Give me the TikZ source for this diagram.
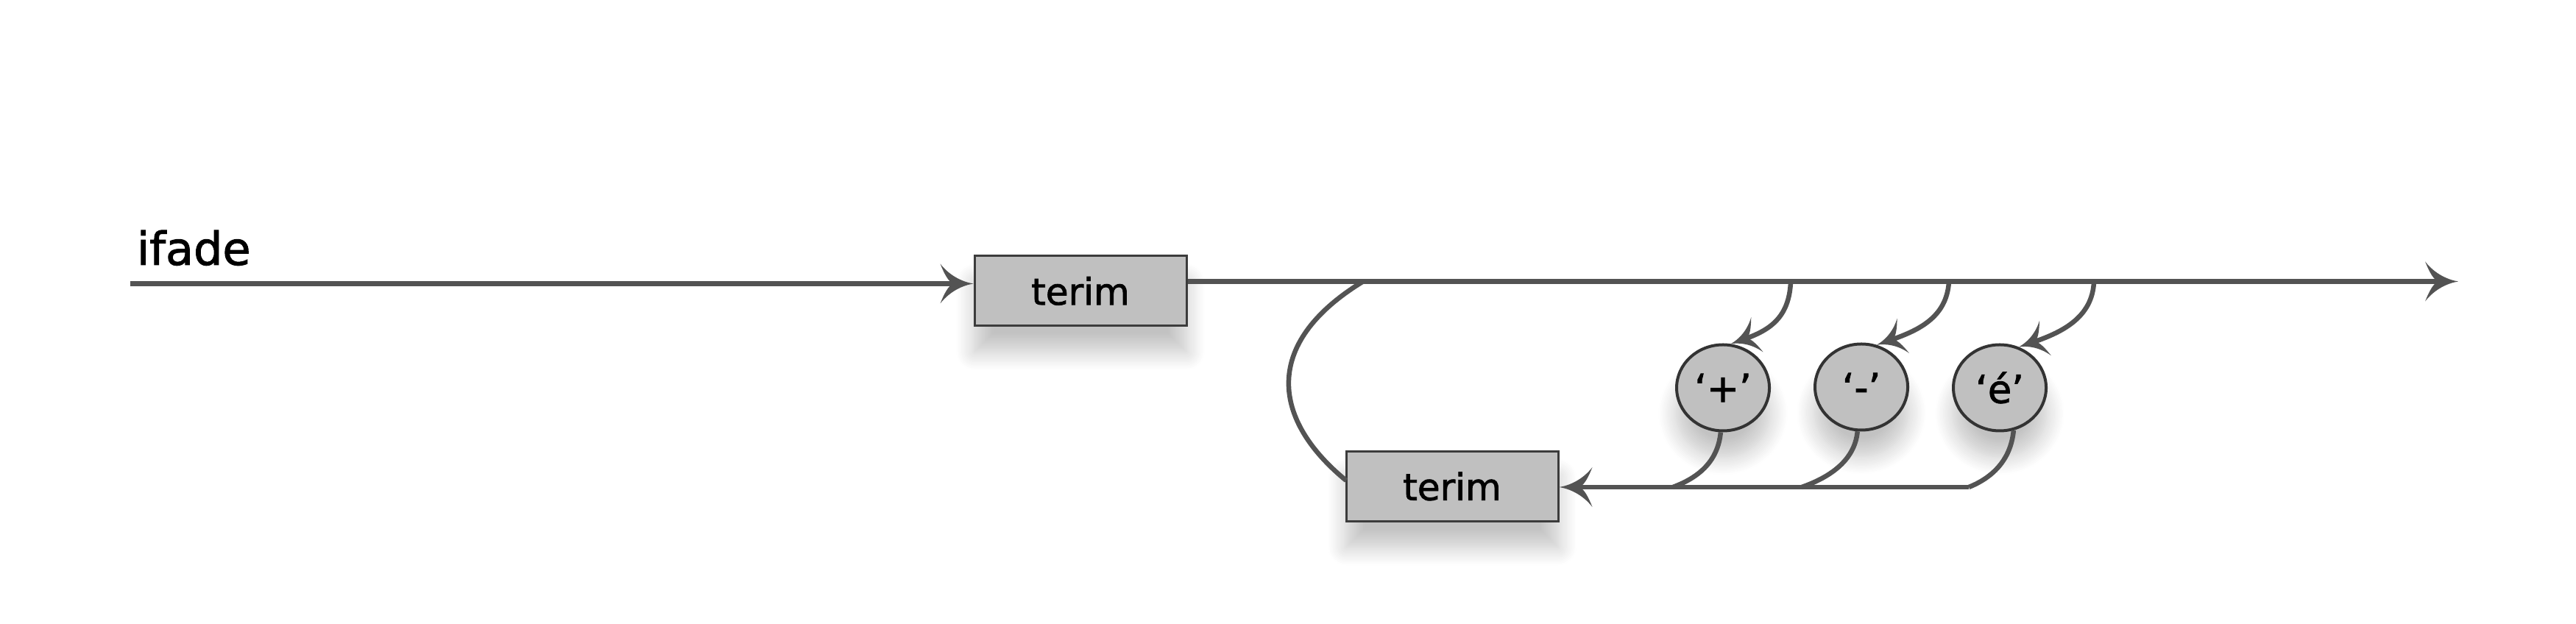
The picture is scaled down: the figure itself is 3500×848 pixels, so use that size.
\documentclass[tikz,border=0pt]{standalone}
\usepackage{fontspec}
\setmainfont{DejaVu Sans}[FakeBold=1.6]
\usetikzlibrary{arrows.meta,shapes.geometric,shadows.blur}

\definecolor{linecol}{HTML}{535353}
\definecolor{boxfill}{HTML}{C0C0C0}
\definecolor{boxborder}{HTML}{3C3C3C}
\definecolor{ellborder}{HTML}{333333}

\pgfdeclarearrow{
  name = Curvy,
  parameters = {\the\pgfarrowlength,\the\pgfarrowwidth},
  setup code = {
    \pgfarrowssettipend{0pt}
    \pgfarrowssetbackend{-\pgfarrowlength}
    \pgfarrowssetlineend{-0.45\pgfarrowlength}
    \pgfarrowssavethe\pgfarrowlength
    \pgfarrowssavethe\pgfarrowwidth
  },
  drawing code = {
    \pgfpathmoveto{\pgfpointorigin}
    \pgfpathcurveto{\pgfpoint{-0.3\pgfarrowlength}{0.04\pgfarrowwidth}}{\pgfpoint{-0.7\pgfarrowlength}{0.18\pgfarrowwidth}}{\pgfpoint{-\pgfarrowlength}{0.5\pgfarrowwidth}}
    \pgfpathcurveto{\pgfpoint{-0.88\pgfarrowlength}{0.25\pgfarrowwidth}}{\pgfpoint{-0.75\pgfarrowlength}{0.04\pgfarrowwidth}}{\pgfpoint{-0.6\pgfarrowlength}{0pt}}
    \pgfpathcurveto{\pgfpoint{-0.75\pgfarrowlength}{-0.04\pgfarrowwidth}}{\pgfpoint{-0.88\pgfarrowlength}{-0.25\pgfarrowwidth}}{\pgfpoint{-\pgfarrowlength}{-0.5\pgfarrowwidth}}
    \pgfpathcurveto{\pgfpoint{-0.7\pgfarrowlength}{-0.18\pgfarrowwidth}}{\pgfpoint{-0.3\pgfarrowlength}{-0.04\pgfarrowwidth}}{\pgfpointorigin}
    \pgfpathclose
    \pgfusepathqfill
  },
  defaults = {length = 9pt, width = 10.8pt}
}

\begin{document}
\begin{tikzpicture}[x=0.2pt,y=-0.2pt,
  conn/.style={draw=linecol, line width=1.3pt},
  bigtip/.style={-{Curvy[length=9pt,width=10.8pt]}},
  smalltip/.style={-{Curvy[length=7.6pt,width=10pt]}},
  softshadow/.style={blur shadow={shadow xshift=0pt, shadow yshift=-7pt, shadow blur radius=5pt, shadow opacity=24, shadow blur steps=12}},
  termbox/.style={rectangle, draw=boxborder, line width=0.6pt, fill=boxfill,
    minimum width=57.6pt, minimum height=19pt, inner sep=0pt,
    font=\fontsize{10}{12}\selectfont, softshadow},
  litnode/.style={ellipse, draw=ellborder, line width=0.8pt, fill=boxfill,
    minimum width=25.2pt, minimum height=23.4pt, inner sep=0pt,
    font=\fontsize{10.5}{12}\selectfont, softshadow},
  title/.style={anchor=base west, inner sep=0pt, font=\fontsize{12.4}{14}\selectfont}
]
\useasboundingbox (0,0) rectangle (3500,848);

% nodes
\node[title] (lbl) at (185,360) {ifade};
\node[termbox] (t1) at (1468,395.5) {terim};
\node[termbox] (t2) at (1973,661) {terim};
\node[litnode] (e1) at (2341,527) {‘+’};
\node[litnode] (e2) at (2529,526) {‘-’};
\node[litnode] (e3) at (2717,527) {‘é’};

% coordinates on the lines
\coordinate (start) at (177,385.5);
\coordinate (finish) at (3340,382.5);
\coordinate (a0) at (1852,382.5);
\coordinate (b1) at (2433,382.5);
\coordinate (b2) at (2648,382.5);
\coordinate (b3) at (2845,382.5);
\coordinate (j1) at (2273,662);
\coordinate (j2) at (2448,662);
\coordinate (j3) at (2675,662);
\coordinate (arcend) at (1829,653);

% main line
\draw[conn,bigtip] (start) -- (t1.west |- start);
\draw[conn,bigtip] (t1.east |- finish) -- (finish);

% return loop
\draw[conn] (a0) .. controls (1712,468) and (1730,572) .. (arcend);
\draw[conn,bigtip] (j3) -- (t2.east |- j3);

% branches to the literals
\draw[conn,smalltip] (b1) .. controls +(-2,50) and +(52,-18) .. (e1.80);
\draw[conn,smalltip] (b2) .. controls +(-3,50) and +(55,-19) .. (e2.70);
\draw[conn,smalltip] (b3) .. controls +(-2,50) and +(57,-19) .. (e3.65);

% branches from the literals back to the lower line
\draw[conn] (e1.-93) .. controls +(-4,42) and +(32,-12) .. (j1);
\draw[conn] (e2.-95) .. controls +(-4,42) and +(34,-12) .. (j2);
\draw[conn] (e3.-72) .. controls +(-4,42) and +(30,-12) .. (j3);
\end{tikzpicture}
\end{document}
